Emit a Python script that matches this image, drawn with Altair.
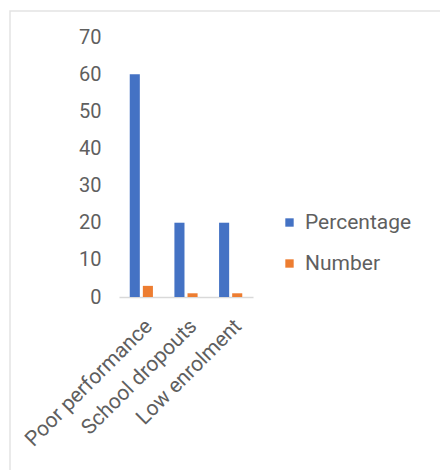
import altair as alt
import pandas as pd

categories = ["Poor performance", "School dropouts", "Low enrolment"]
percentage = [60, 20, 20]
number = [3, 1, 1]
series = ["Percentage", "Number"]
colors = ["#4472C4", "#ED7D31"]

rows = []
for c, p, n in zip(categories, percentage, number):
    rows.append({"category": c, "series": "Percentage", "value": p})
    rows.append({"category": c, "series": "Number", "value": n})
df = pd.DataFrame(rows)

FONT = "Roboto"
GRAY = "#5f5f5f"

bars = alt.Chart(df).mark_bar().encode(
    x=alt.X(
        "category:N",
        sort=categories,
        scale=alt.Scale(paddingInner=0, paddingOuter=0),
        axis=alt.Axis(
            title=None,
            labelAngle=-45,
            labelFont=FONT,
            labelFontSize=21,
            labelColor=GRAY,
            labelPadding=18,
            ticks=False,
            domainColor="#d9d9d9",
            domainWidth=1.5,
        ),
    ),
    xOffset=alt.XOffset(
        "series:N",
        sort=series,
        scale=alt.Scale(paddingInner=0.23, paddingOuter=0.82),
    ),
    y=alt.Y(
        "value:Q",
        scale=alt.Scale(domain=[0, 70]),
        axis=alt.Axis(
            title=None,
            values=list(range(0, 71, 10)),
            labelFont=FONT,
            labelFontSize=20,
            labelColor=GRAY,
            labelPadding=18,
            ticks=False,
            domain=False,
            grid=False,
        ),
    ),
    color=alt.Color(
        "series:N",
        sort=series,
        scale=alt.Scale(domain=series, range=colors),
        legend=alt.Legend(
            title=None,
            orient="none",
            legendX=160,
            legendY=175,
            symbolType="square",
            symbolSize=70,
            symbolStrokeWidth=0,
            labelFont=FONT,
            labelFontSize=21,
            labelColor=GRAY,
            labelOffset=5,
            rowPadding=19,
        ),
    ),
)

# light outer frame around the chart
frame = alt.Chart(pd.DataFrame({"d": [0]})).mark_rect(
    fill=None, stroke="#e3e3e3", strokeWidth=1.5
).encode(
    x=alt.value(-109), x2=alt.value(400), y=alt.value(-26), y2=alt.value(500)
)

chart = alt.layer(frame, bars).properties(
    width=134,
    height=260,
    padding={"left": 119, "top": 37, "right": 187, "bottom": 173},
    autosize=alt.AutoSizeParams(type="none"),
).configure_view(stroke=None)

chart.save("out.html", embed_options={"renderer": "svg", "actions": False})
